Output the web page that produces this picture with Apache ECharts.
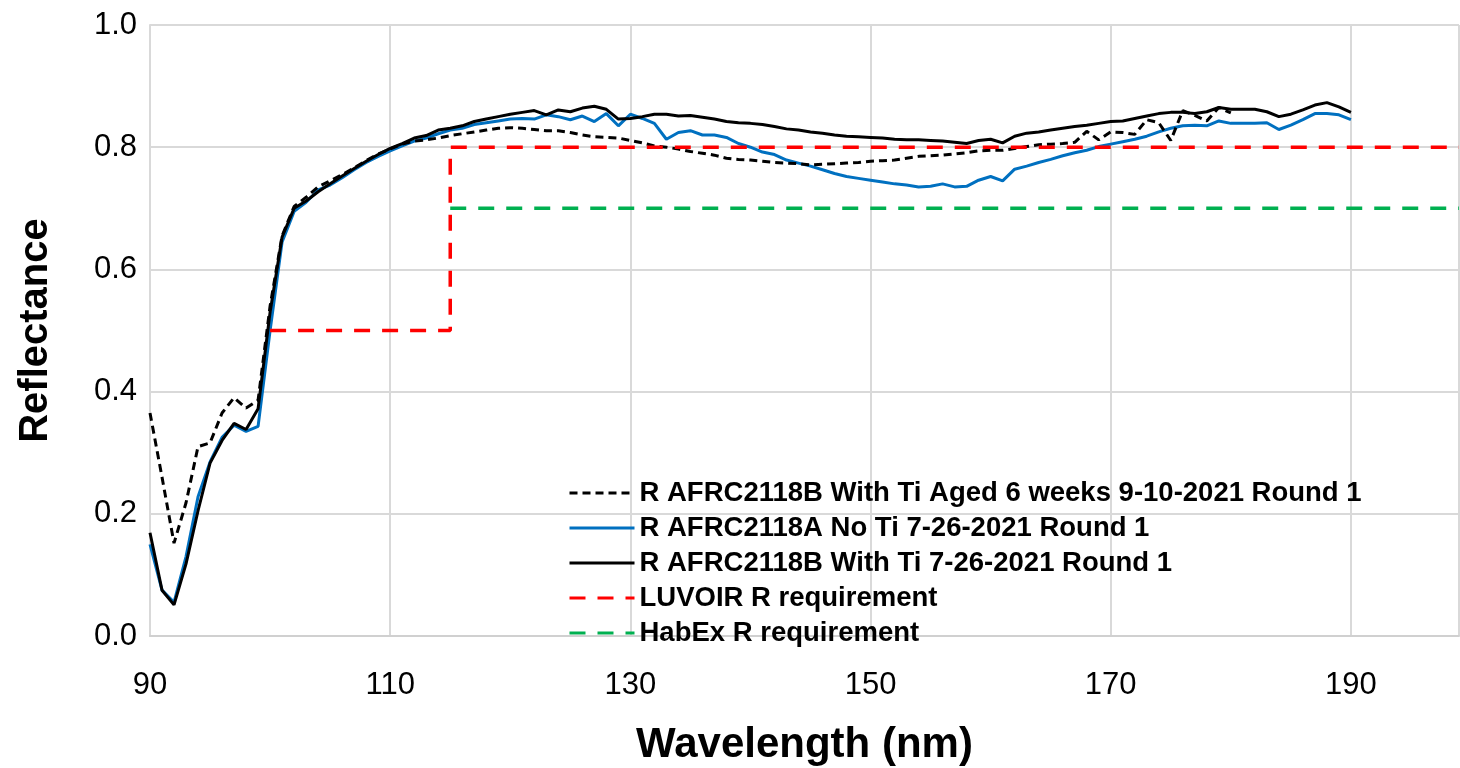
<!DOCTYPE html>
<html>
<head>
<meta charset="utf-8">
<script src="https://cdn.jsdelivr.net/npm/echarts@6/dist/echarts.min.js"></script>
<style>
html,body{margin:0;padding:0;background:#fff;}
#chart{width:1460px;height:768px;}
</style>
</head>
<body>
<div id="chart"></div>
<script>
const wavelengths = [90,91,92,93,94,95,96,97,98,99,100,101,102,103,104,105,106,107,108,109,110,111,112,113,114,115,116,117,118,119,120,121,122,123,124,125,126,127,128,129,130,131,132,133,134,135,136,137,138,139,140,141,142,143,144,145,146,147,148,149,150,151,152,153,154,155,156,157,158,159,160,161,162,163,164,165,166,167,168,169,170,171,172,173,174,175,176,177,178,179,180,181,182,183,184,185,186,187,188,189,190];

const agedWithTi = [0.365,0.26,0.152,0.218,0.31,0.316,0.365,0.39,0.373,0.386,0.54,0.655,0.703,0.718,0.735,0.745,0.755,0.766,0.778,0.789,0.797,0.805,0.810,0.812,0.815,0.819,0.822,0.825,0.828,0.831,0.832,0.831,0.829,0.827,0.827,0.824,0.820,0.817,0.816,0.815,0.811,0.807,0.802,0.800,0.797,0.793,0.790,0.787,0.782,0.780,0.779,0.777,0.775,0.774,0.773,0.771,0.772,0.773,0.774,0.775,0.777,0.778,0.779,0.782,0.785,0.786,0.787,0.789,0.791,0.794,0.795,0.795,0.798,0.801,0.804,0.805,0.806,0.808,0.826,0.812,0.825,0.824,0.821,0.845,0.840,0.811,0.860,0.852,0.843,0.865,0.856];

const noTi = [0.15,0.075,0.055,0.13,0.228,0.285,0.325,0.345,0.335,0.343,0.50,0.645,0.695,0.710,0.730,0.738,0.750,0.763,0.775,0.785,0.794,0.802,0.810,0.815,0.822,0.828,0.831,0.837,0.840,0.843,0.846,0.847,0.846,0.853,0.850,0.845,0.851,0.842,0.855,0.835,0.854,0.847,0.839,0.813,0.824,0.827,0.820,0.820,0.816,0.806,0.800,0.792,0.788,0.779,0.774,0.769,0.763,0.757,0.752,0.749,0.746,0.743,0.740,0.738,0.735,0.736,0.740,0.735,0.736,0.746,0.752,0.745,0.764,0.769,0.775,0.780,0.786,0.791,0.795,0.801,0.805,0.809,0.813,0.818,0.825,0.831,0.835,0.836,0.835,0.843,0.839,0.839,0.839,0.840,0.829,0.836,0.845,0.855,0.855,0.853,0.845];

const withTi = [0.169,0.075,0.051,0.118,0.205,0.283,0.32,0.348,0.338,0.372,0.53,0.653,0.70,0.712,0.727,0.740,0.753,0.765,0.777,0.788,0.798,0.806,0.815,0.819,0.828,0.831,0.835,0.842,0.846,0.850,0.854,0.857,0.860,0.853,0.861,0.858,0.864,0.867,0.862,0.846,0.847,0.850,0.854,0.854,0.851,0.852,0.849,0.846,0.842,0.840,0.839,0.837,0.834,0.830,0.828,0.825,0.823,0.820,0.818,0.817,0.816,0.815,0.813,0.812,0.812,0.811,0.810,0.808,0.806,0.811,0.813,0.807,0.818,0.823,0.825,0.828,0.831,0.834,0.836,0.839,0.842,0.843,0.847,0.851,0.855,0.857,0.857,0.855,0.858,0.865,0.862,0.862,0.862,0.858,0.850,0.854,0.861,0.869,0.873,0.866,0.857];

const luvoirX = [100,115,115,199];
const luvoirY = [0.5,0.5,0.8,0.8];
const habexX = [115,199];
const habexY = [0.7,0.7];

const seriesNames = [
  'R AFRC2118B With Ti Aged 6 weeks 9-10-2021 Round 1',
  'R AFRC2118A No Ti 7-26-2021 Round 1',
  'R AFRC2118B With Ti 7-26-2021 Round 1',
  'LUVOIR R requirement',
  'HabEx R requirement'
];
const xTicks = [90,110,130,150,170,190];
const yTicks = [0,0.2,0.4,0.6,0.8,1.0];

function pairs(xs, ys){ return xs.map((x,i)=>[x, ys[i]]); }

const chart = echarts.init(document.getElementById('chart'));
const FONT = '"Liberation Sans", Arial, sans-serif';
chart.setOption({
  animation: false,
  backgroundColor: '#fff',
  grid: { left: 150, right: 1, top: 25, bottom: 132, containLabel: false, outerBoundsMode: 'none' },
  xAxis: {
    type: 'value', min: 90, max: 199, interval: 20,
    name: 'Wavelength (nm)', nameLocation: 'middle', nameGap: 88,
    nameTextStyle: { fontFamily: FONT, fontSize: 42, fontWeight: 'bold', color: '#000' },
    axisLine: { show: true, lineStyle: { color: '#D0D0D0', width: 2 } },
    axisTick: { show: false },
    axisLabel: { margin: 34, fontFamily: FONT, fontSize: 31, color: '#000', showMaxLabel: false,
      formatter: v => xTicks.includes(v) ? String(v) : '' },
    splitLine: { show: true, lineStyle: { color: '#D9D9D9', width: 2 } }
  },
  yAxis: {
    type: 'value', min: 0, max: 1, interval: 0.2,
    name: 'Reflectance', nameLocation: 'middle', nameGap: 94,
    nameTextStyle: { fontFamily: FONT, fontSize: 40, fontWeight: 'bold', color: '#000' },
    axisLine: { show: true, lineStyle: { color: '#D9D9D9', width: 2 } },
    axisTick: { show: false },
    axisLabel: { margin: 13, fontFamily: FONT, fontSize: 31, color: '#000',
      formatter: v => yTicks.some(t => Math.abs(t - v) < 1e-9) ? v.toFixed(1) : '' },
    splitLine: { show: true, lineStyle: { color: '#D9D9D9', width: 2 } }
  },
  legend: {
    orient: 'vertical', left: 563, top: 474, itemGap: 7,
    itemWidth: 65, itemHeight: 14,
    data: seriesNames,
    itemStyle: { opacity: 0 },
    lineStyle: { width: 3 },
    textStyle: { fontFamily: FONT, fontSize: 27.5, fontWeight: 'bold', color: '#000' }
  },
  series: [
    { name: seriesNames[1], type: 'line', symbol: 'none', data: pairs(wavelengths, noTi),
      lineStyle: { color: '#0070C0', width: 3 }, itemStyle: { color: '#0070C0' }, z: 2 },
    { name: seriesNames[2], type: 'line', symbol: 'none', data: pairs(wavelengths, withTi),
      lineStyle: { color: '#000', width: 3 }, itemStyle: { color: '#000' }, z: 3 },
    { name: seriesNames[0], type: 'line', symbol: 'none', data: pairs(wavelengths, agedWithTi),
      lineStyle: { color: '#000', width: 3, type: [8, 5] }, itemStyle: { color: '#000' }, z: 4 },
    { name: seriesNames[3], type: 'line', symbol: 'none', data: pairs(luvoirX, luvoirY),
      lineStyle: { color: '#FF0000', width: 3.5, type: [16, 12] }, itemStyle: { color: '#FF0000' }, z: 5 },
    { name: seriesNames[4], type: 'line', symbol: 'none', data: pairs(habexX, habexY),
      lineStyle: { color: '#00B050', width: 3.5, type: [16, 12] }, itemStyle: { color: '#00B050' }, z: 5 }
  ]
});
</script>
</body>
</html>
